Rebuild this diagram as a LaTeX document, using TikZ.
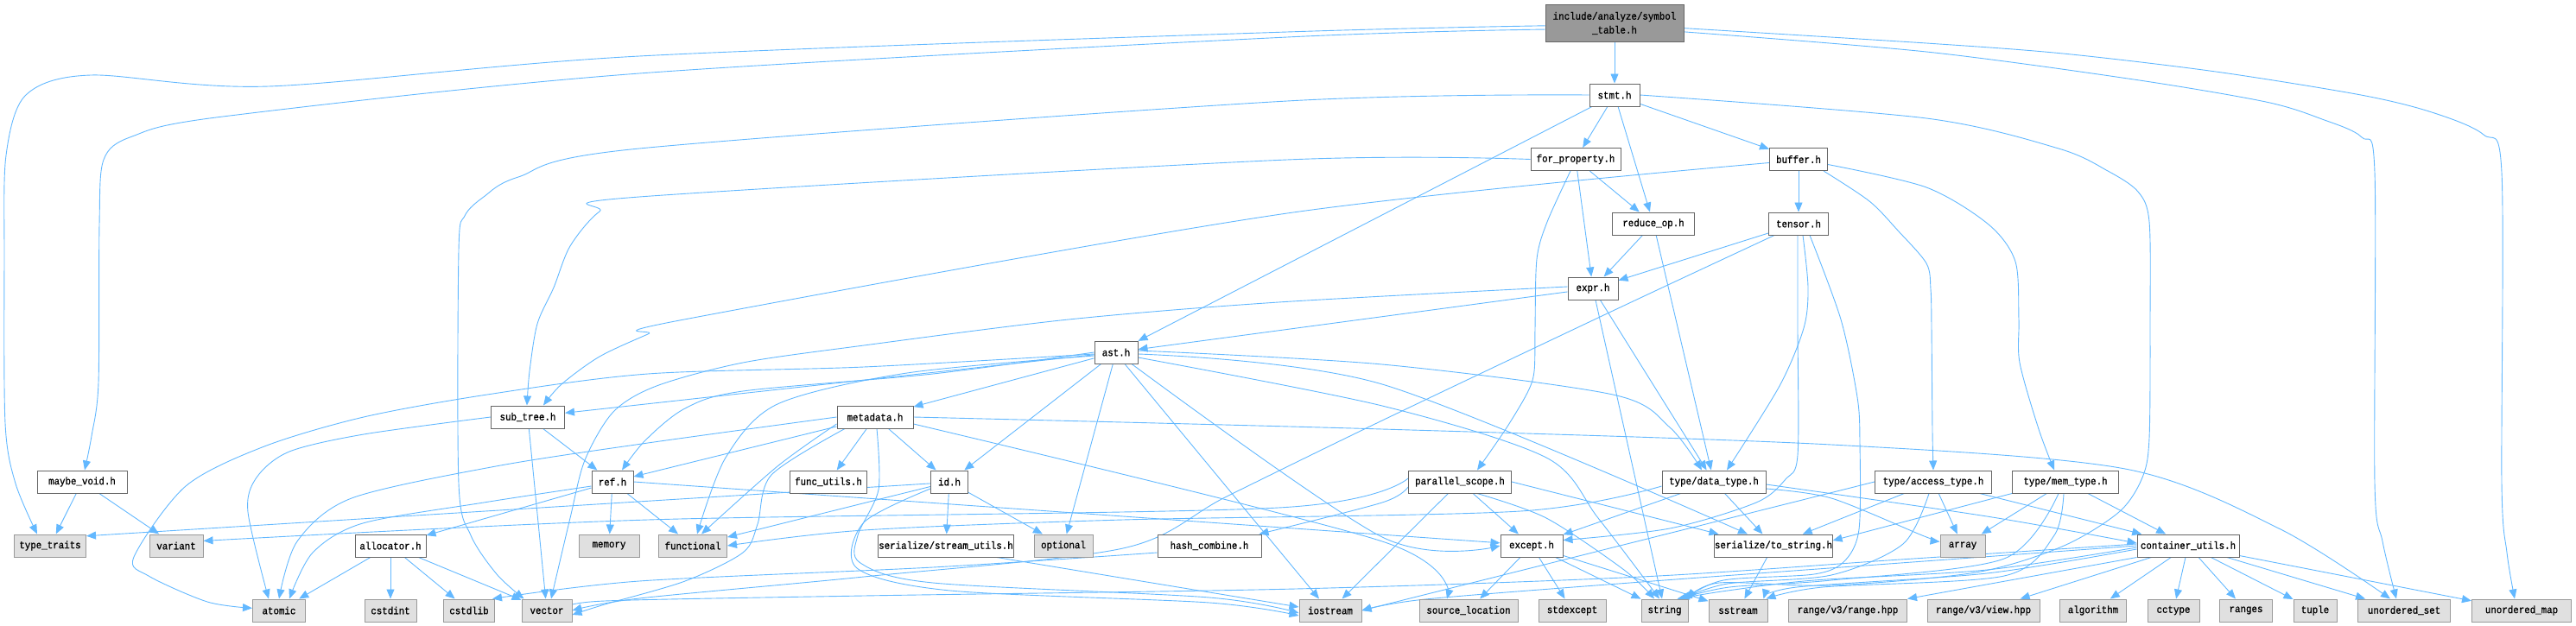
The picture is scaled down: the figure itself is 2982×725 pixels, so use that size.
\documentclass[tikz,border=0pt]{standalone}
\usepackage{fontspec}
\newfontfamily\doxyfont{Liberation Mono}[FakeStretch=0.9,FakeBold=0.9]
\usetikzlibrary{arrows.meta,backgrounds}
\definecolor{edgeblue}{HTML}{63B8FF}
\definecolor{boxline}{HTML}{666666}
\definecolor{sysline}{HTML}{999999}
\definecolor{sysfill}{HTML}{E0E0E0}
\definecolor{rootfill}{HTML}{999999}

\begin{document}
\begin{tikzpicture}[x=1pt, y=-1pt,
  every node/.style={font=\doxyfont\fontsize{12}{16}\selectfont},
  hdr/.style={draw=boxline, fill=white, line width=1pt, minimum height=26pt, inner xsep=0pt, inner ysep=0pt},
  sys/.style={hdr, draw=sysline, fill=sysfill},
  rootbox/.style={hdr, fill=rootfill, minimum height=43pt, align=center},
  dep/.style={draw=edgeblue, line width=0.9pt, -{Triangle[length=11pt,width=9pt]}}]
  \useasboundingbox (0,0) rectangle (2982,725);

  \node[rootbox, minimum width=160pt] (root) at (1869,27) {include/analyze/symbol\\\_table.h};
  \node[hdr, minimum width=58pt]  (stmt)    at (1869,110)   {stmt.h};
  \node[hdr, minimum width=104pt] (fprop)   at (1824,184.5) {for\_property.h};
  \node[hdr, minimum width=67pt]  (buffer)  at (2082,184.5) {buffer.h};
  \node[hdr, minimum width=95pt]  (redop)   at (1914,259)   {reduce\_op.h};
  \node[hdr, minimum width=69pt]  (tensor)  at (2082,259)   {tensor.h};
  \node[hdr, minimum width=58pt]  (expr)    at (1844,334)   {expr.h};
  \node[hdr, minimum width=50pt]  (ast)     at (1292,408)   {ast.h};
  \node[hdr, minimum width=88pt]  (meta)    at (1013,483)   {metadata.h};
  \node[hdr, minimum width=85pt]  (subtree) at (611,483)    {sub\_tree.h};
  \node[hdr, minimum width=104pt] (maybev)  at (95,558)     {maybe\_void.h};
  \node[hdr, minimum width=48pt]  (ref)     at (709,558)    {ref.h};
  \node[hdr, minimum width=89pt]  (futils)  at (959,558)    {func\_utils.h};
  \node[hdr, minimum width=43pt]  (id)      at (1099,558)   {id.h};
  \node[hdr, minimum width=119pt] (pscope)  at (1690,558)   {parallel\_scope.h};
  \node[hdr, minimum width=120pt] (dtype)   at (1984,558)   {type/data\_type.h};
  \node[hdr, minimum width=135pt] (atype)   at (2238,558)   {type/access\_type.h};
  \node[hdr, minimum width=123pt] (mtype)   at (2391,558)   {type/mem\_type.h};
  \node[hdr, minimum width=82pt]  (alloc)   at (452,632)    {allocator.h};
  \node[hdr, minimum width=157pt] (sutils)  at (1095,632)   {serialize/stream\_utils.h};
  \node[hdr, minimum width=120pt] (hcomb)   at (1400,632)   {hash\_combine.h};
  \node[hdr, minimum width=72pt]  (except)  at (1773,632)   {except.h};
  \node[hdr, minimum width=136pt] (tostr)   at (2053,632)   {serialize/to\_string.h};
  \node[hdr, minimum width=118pt] (cutils)  at (2533,632)   {container\_utils.h};

  \node[sys, minimum width=83pt]  (ttraits)    at (58,632)   {type\_traits};
  \node[sys, minimum width=62pt]  (variant)    at (204,632)  {variant};
  \node[sys, minimum width=70pt]  (memory)     at (705,632)  {memory};
  \node[sys, minimum width=79pt]  (functional) at (802,632)  {functional};
  \node[sys, minimum width=68pt]  (optional)   at (1231,632) {optional};
  \node[sys, minimum width=52pt]  (array)      at (2272,632) {array};
  \node[sys, minimum width=61pt]  (atomic)     at (323,707)  {atomic};
  \node[sys, minimum width=60pt]  (cstdint)    at (452,707)  {cstdint};
  \node[sys, minimum width=59pt]  (cstdlib)    at (543,707)  {cstdlib};
  \node[sys, minimum width=58pt]  (vector)     at (633,707)  {vector};
  \node[sys, minimum width=72pt]  (iostream)   at (1540,707) {iostream};
  \node[sys, minimum width=114pt] (srcloc)     at (1700,707) {source\_location};
  \node[sys, minimum width=78pt]  (stdexcept)  at (1820,707) {stdexcept};
  \node[sys, minimum width=54pt]  (string)     at (1927,707) {string};
  \node[sys, minimum width=68pt]  (sstream)    at (2012,707) {sstream};
  \node[sys, minimum width=137pt] (rangehpp)   at (2139,707) {range/v3/range.hpp};
  \node[sys, minimum width=130pt] (viewhpp)    at (2296,707) {range/v3/view.hpp};
  \node[sys, minimum width=77pt]  (algorithm)  at (2423,707) {algorithm};
  \node[sys, minimum width=60pt]  (cctype)     at (2516,707) {cctype};
  \node[sys, minimum width=61pt]  (ranges)     at (2600,707) {ranges};
  \node[sys, minimum width=50pt]  (tuple)      at (2680,707) {tuple};
  \node[sys, minimum width=107pt] (uset)       at (2783,707) {unordered\_set};
  \node[sys, minimum width=115pt] (umap)       at (2919,707) {unordered\_map};

  \begin{pgfonlayer}{background}
  \draw[dep] (root) -- (stmt);
  \draw[dep] plot[smooth] coordinates {(root.182) (1490,37) (740,65) (311,100) (105,87) (30,110) (7,180) (5,300) (6,490) (18,560) ([xshift=-15pt]ttraits.north)};
  \draw[dep] plot[smooth] coordinates {(root.185) (1490,43) (740,85) (258,135) (153,158) (120,185) (115,260) (114,443) (106,505) ([xshift=3pt]maybev.north)};
  \draw[dep] plot[smooth] coordinates {(root.356) (2230,50) (2388,62) (2565,83) (2733,110) (2815,130) (2875,156) (2896,200) (2896,560) (2902,640) ([xshift=-8pt]umap.north)};
  \draw[dep] plot[smooth] coordinates {(root.353) (2230,60) (2470,92) (2623,118) (2688,138) (2734,159) (2749,200) (2749,560) (2758,627) ([xshift=-9pt]uset.north)};

  \draw[dep] (maybev) -- (ttraits);
  \draw[dep] (maybev) -- (variant);

  \draw[dep] (stmt) -- (ast);
  \draw[dep] (stmt) -- (fprop);
  \draw[dep] (stmt) -- (redop);
  \draw[dep] (stmt) -- (buffer);
  \draw[dep] plot[smooth] coordinates {(stmt.east) (2230,137) (2383,172) (2440,198) (2475,222) (2488,257) (2489,370) (2488,507) (2480,553) (2453,593) (2387,633) (2287,663) (2120,678) (1990,675) ([xshift=-1pt]string.north east)};
  \draw[dep] plot[smooth] coordinates {(stmt.west) (1490,117) (740,172) (600,205) (560,228) (538,250) (531,290) (531,560) (545,620) (575,665) ([xshift=3pt]vector.north west)};

  \draw[dep] plot[smooth] coordinates {(fprop.west) (1490,185) (740,228) (694,245) (660,285) (641,333) (622,375) (613,430) ([xshift=-1pt]subtree.north)};
  \draw[dep] plot[smooth] coordinates {([xshift=-6pt]fprop.south) (1791,257) (1779,300) (1777,380) (1776,430) (1768,455) (1743,497) ([xshift=20pt]pscope.north)};
  \draw[dep] (fprop) -- (expr);
  \draw[dep] (fprop) -- (redop);

  \draw[dep] (buffer) -- (tensor);
  \draw[dep] plot[smooth] coordinates {([yshift=-4pt]buffer.west) (1490,247) (792,370) (750,387) (694,413) (650,445) ([xshift=18pt]subtree.north)};
  \draw[dep] plot[smooth] coordinates {([xshift=-5pt]buffer.south east) (2164,233) (2197,267) (2230,305) (2235,335) (2236,380) (2237,500) (atype.north)};
  \draw[dep] plot[smooth] coordinates {([yshift=-6pt]buffer.east) (2230,217) (2302,260) (2333,303) (2337,370) (2338,420) (2360,497) ([xshift=-13pt]mtype.north)};

  \draw[dep] (redop) -- (expr);
  \draw[dep] (redop) -- (dtype);

  \draw[dep] (tensor) -- (expr);
  \draw[dep] plot[smooth] coordinates {([xshift=-28pt]tensor.south) (1867,360) (1600,487) (1420,575) (1300,635) (1000,668) (740,693) (vector.east)};
  \draw[dep] plot[smooth] coordinates {([xshift=-1pt]tensor.south) (2081,380) (2081,527) (2067,555) (2033,582) (1933,612) (except.10)};
  \draw[dep] plot[smooth] coordinates {([xshift=5pt]tensor.south) (2093,333) (2088,380) (2060,447) ([xshift=15pt]dtype.north)};
  \draw[dep] plot[smooth] coordinates {([xshift=13pt]tensor.south) (2131,370) (2150,460) (2153,513) (2152,613) (2135,650) (2100,665) (1995,672) ([xshift=-4pt]string.north east)};

  \draw[dep] (expr) -- (ast);
  \draw[dep] plot[smooth] coordinates {([yshift=2pt]expr.west) (1480,350) (1237,370) (1000,400) (860,420) (760,447) (710,477) (677,533) (660,600) ([xshift=5pt]vector.north)};
  \draw[dep] (expr) -- (string);
  \draw[dep] (expr) -- (dtype);

  \draw[dep] (ast) -- (meta);
  \draw[dep] (ast) -- (id);
  \draw[dep] (ast) -- (optional);
  \draw[dep] ([xshift=10pt]ast.south) -- ([xshift=-13pt]iostream.north);
  \draw[dep] (ast) -- (subtree);
  \draw[dep] plot[smooth] coordinates {(ast.west) (1080,433) (860,453) (793,473) (747,510) ([xshift=11pt]ref.north)};
  \draw[dep] plot[smooth] coordinates {([yshift=-4pt]ast.west) (1050,432) (900,468) (840,530) ([xshift=5pt]functional.north)};
  \draw[dep] plot[smooth] coordinates {([yshift=-2pt]ast.west) (1000,425) (750,433) (564,457) (421,483) (306,517) (215,563) (155,645) (172,667) (240,697) (atomic.175)};
  \draw[dep] plot[smooth] coordinates {([yshift=2pt]ast.east) (1600,422) (1867,457) (1933,495) ([xshift=-14pt]dtype.north)};
  \draw[dep] plot[smooth] coordinates {([yshift=-2pt]ast.east) (1600,445) ([xshift=-30pt]tostr.north)};
  \draw[dep] plot[smooth] coordinates {([yshift=-6pt]ast.east) (1600,470) (1790,530) (1850,600) ([xshift=-6pt]string.north)};
  \draw[dep] plot[smooth] coordinates {([xshift=18pt]ast.south) (1600,622) (except.west)};

  \draw[dep] (meta) -- (futils);
  \draw[dep] (meta) -- (id);
  \draw[dep] (meta) -- (ref);
  \draw[dep] plot[smooth] coordinates {([yshift=-8pt]meta.west) (900,540) ([xshift=10pt]functional.north)};
  \draw[dep] plot[smooth] coordinates {(meta.west) (750,513) (574,540) (407,577) (344,627) (atomic.north)};
  \draw[dep] plot[smooth] coordinates {([xshift=-35pt]meta.south) (893,550) (877,607) (860,640) (793,673) (700,700) ([yshift=-5pt]vector.east)};
  \draw[dep] plot[smooth] coordinates {([xshift=2pt]meta.south) (1017,567) (993,620) (996,652) (1080,675) (1400,692) ([yshift=-3pt]iostream.west)};
  \draw[dep] plot[smooth] coordinates {(meta.east) (1600,497) (2120,515) (2460,543) (2640,613) ([xshift=-16pt]uset.north)};
  \draw[dep] plot[smooth] coordinates {([yshift=-8pt]meta.east) (1600,627) ([xshift=-25pt]srcloc.north)};

  \draw[dep] (subtree) -- (ref);
  \draw[dep] (subtree) -- (vector);
  \draw[dep] plot[smooth] coordinates {(subtree.west) (421,503) (335,523) (297,553) (287,593) ([xshift=-12pt]atomic.north)};

  \draw[dep] (ref) -- (alloc);
  \draw[dep] (ref) -- (memory);
  \draw[dep] (ref) -- (functional);
  \draw[dep] plot[smooth] coordinates {([yshift=-5pt]ref.west) (560,582) (420,606) (362,640) ([xshift=12pt]atomic.north)};
  \draw[dep] (ref.east) -- (except.175);

  \draw[dep] (id.185) -- (ttraits.15);
  \draw[dep] (id) -- (functional);
  \draw[dep] (id) -- (sutils);
  \draw[dep] (id) -- (optional);
  \draw[dep] plot[smooth] coordinates {([yshift=-8pt]id.west) (1000,605) (992,658) (1100,684) (1400,698) ([yshift=-6pt]iostream.west)};

  \draw[dep] (alloc) -- (atomic);
  \draw[dep] (alloc) -- (cstdint);
  \draw[dep] (alloc) -- (cstdlib);
  \draw[dep] (alloc) -- (vector);

  \draw[dep] ([xshift=-20pt]sutils.south east) -- ([yshift=4pt]iostream.west);

  \draw[dep] plot[smooth] coordinates {([yshift=4pt]pscope.west) (1480,588) (750,602) (variant.10)};
  \draw[dep] plot[smooth] coordinates {([yshift=-6pt]pscope.west) (1600,582) ([xshift=-3pt]hcomb.north east)};
  \draw[dep] (pscope) -- (iostream);
  \draw[dep] (pscope) -- (except);
  \draw[dep] plot[smooth] coordinates {([xshift=20pt]pscope.south) (1790,600) (1880,660) ([xshift=-12pt]string.north)};
  \draw[dep] (pscope.east) -- ([xshift=5pt]tostr.north west);

  \draw[dep] plot[smooth] coordinates {([yshift=-8pt]hcomb.west) (1080,657) (740,673) ([xshift=-3pt]cstdlib.north east)};

  \draw[dep] (except) -- (srcloc);
  \draw[dep] (except) -- (stdexcept);
  \draw[dep] (except) -- (string);
  \draw[dep] (except) -- (sstream);

  \draw[dep] (tostr) -- (sstream);

  \draw[dep] plot[smooth] coordinates {([yshift=-5pt]dtype.west) (1760,592) (1300,602) (1000,614) (functional.east)};
  \draw[dep] (dtype) -- (except);
  \draw[dep] (dtype) -- (tostr);
  \draw[dep] plot[smooth] coordinates {([yshift=-8pt]dtype.east) (2120,577) (2225,620) (array.170)};
  \draw[dep] plot[smooth] coordinates {([yshift=-3pt]dtype.east) (2300,598) ([yshift=3pt]cutils.west)};

  \draw[dep] (atype) -- (tostr);
  \draw[dep] (atype) -- (array);
  \draw[dep] (atype) -- (cutils);
  \draw[dep] plot[smooth] coordinates {([xshift=-5pt]atype.south) (2203,630) (2120,666) (2000,676) ([xshift=-7pt]string.north east)};
  \draw[dep] (atype.west) -- (iostream.east);

  \draw[dep] (mtype.south west) -- ([yshift=6pt]tostr.east);
  \draw[dep] (mtype) -- (array);
  \draw[dep] (mtype) -- (cutils);
  \draw[dep] plot[smooth] coordinates {([xshift=-8pt]mtype.south) (2320,647) (2120,672) (2002,680) ([xshift=-10pt]string.north east)};
  \draw[dep] plot[smooth] coordinates {([xshift=-2pt]mtype.south) (2378,620) (2320,667) (2110,680) ([xshift=-2pt]sstream.north east)};

  \draw[dep] (cutils) -- (viewhpp);
  \draw[dep] (cutils) -- (algorithm);
  \draw[dep] (cutils) -- (cctype);
  \draw[dep] (cutils) -- (ranges);
  \draw[dep] (cutils) -- (tuple);
  \draw[dep] (cutils) -- (uset);
  \draw[dep] (cutils) -- (umap);
  \draw[dep] (cutils.south west) -- (rangehpp.north east);
  \draw[dep] plot[smooth] coordinates {([yshift=-4pt]cutils.west) (2300,664) (2080,680) ([xshift=-5pt]sstream.north east)};
  \draw[dep] plot[smooth] coordinates {([yshift=-2pt]cutils.west) (2300,660) (2100,672) (2000,684) ([xshift=-13pt]string.north east)};
  \draw[dep] plot[smooth] coordinates {(cutils.west) (2200,652) (1900,674) (1650,694) (iostream.east)};
  \draw[dep] plot[smooth] coordinates {([yshift=2pt]cutils.west) (2200,648) (1900,668) (1500,682) (1000,690) (700,696) ([yshift=3pt]vector.east)};
  \end{pgfonlayer}
\end{tikzpicture}
\end{document}
